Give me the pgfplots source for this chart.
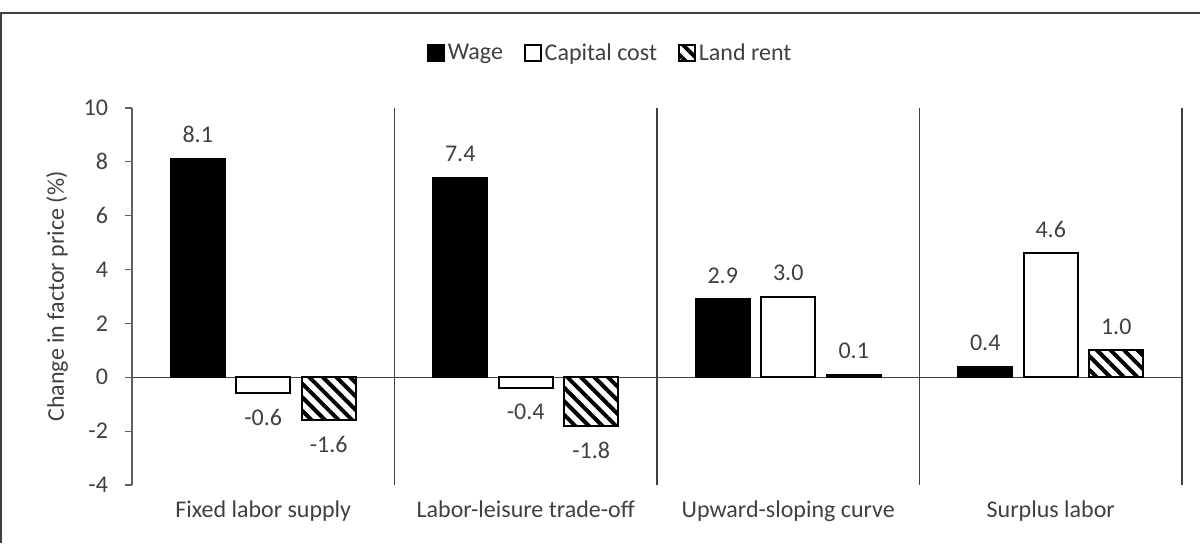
\documentclass[border=0pt]{standalone}
\usepackage{pgfplots}
\pgfplotsset{compat=1.18}
\usepackage{fontspec}
\setmainfont{Carlito}
\usetikzlibrary{patterns.meta}
\definecolor{txt}{HTML}{404040}
\definecolor{axgray}{HTML}{606060}
\begin{document}
\begin{tikzpicture}[font=\fontsize{12}{14}\selectfont]
\useasboundingbox (0,0) rectangle (600pt,271.5pt);
\draw[black!75, line width=1pt] (0.5pt,0) -- (0.5pt,265pt) -- (600pt,265pt);
\begin{axis}[
  at={(66pt,29pt)}, anchor=south west,
  scale only axis, width=525pt, height=188.5pt,
  ybar=5.75pt, bar width=27pt,
  xmin=-0.5, xmax=3.5, ymin=-4, ymax=10,
  ytick={-4,-2,0,2,4,6,8,10},
  xtick={0,1,2,3},
  xticklabels={Fixed labor supply, Labor-leisure trade-off, Upward-sloping curve, Surplus labor},
  axis lines*=left,
  x axis line style={draw=none},
  y axis line style={draw=axgray, line width=0.6pt},
  xtick style={draw=none},
  ytick style={draw=axgray, line width=0.6pt},
  tick align=outside, major tick length=3.5pt,
  extra x ticks={0.5,1.5,2.5,3.5},
  extra x tick labels={},
  extra x tick style={grid=major, major grid style={draw=black!75, line width=0.6pt}, major tick length=0pt},
  extra y ticks={0},
  extra y tick labels={},
  extra y tick style={grid=major, major grid style={draw=black!75, line width=0.6pt}},
  /pgf/number format/assume math mode=true,
  tick label style={text=txt},
  xticklabel style={yshift=-1pt},
  yticklabel style={xshift=-5pt},
  every axis y label/.style={at={(axis description cs:-0.0714,0.5)}, rotate=90, anchor=center, text=txt},
  ylabel={Change in factor price (\%)},
  nodes near coords={\pgfmathprintnumber[fixed,fixed zerofill,precision=1,assume math mode=true]{\pgfplotspointmeta}},
  nodes near coords style={text=txt, inner sep=7.5pt},
  legend columns=3,
  legend style={draw=none, at={(0.456,1.145)}, anchor=center, text=txt,
    /tikz/every even column/.append style={column sep=9pt},
    nodes={inner sep=1.5pt}},
  legend image code/.code={\draw[#1, line width=0.9pt] (0pt,-4pt) rectangle (8pt,4pt);},
]
\addplot[fill=black, draw=black, line width=1pt] coordinates {(0,8.1) (1,7.4) (2,2.9) (3,0.4)};
\addlegendentry{Wage}
\addplot[fill=white, draw=black, line width=1pt] coordinates {(0,-0.6) (1,-0.4) (2,3.0) (3,4.6)};
\addlegendentry{Capital cost}
\addplot[fill=white, draw=black, line width=1pt, postaction={pattern={Lines[angle=-45,distance=4.8pt,line width=2pt]}}] coordinates {(0,-1.6) (1,-1.8) (2,0.1) (3,1.0)};
\addlegendentry{Land rent}
\end{axis}
\end{tikzpicture}
\end{document}
